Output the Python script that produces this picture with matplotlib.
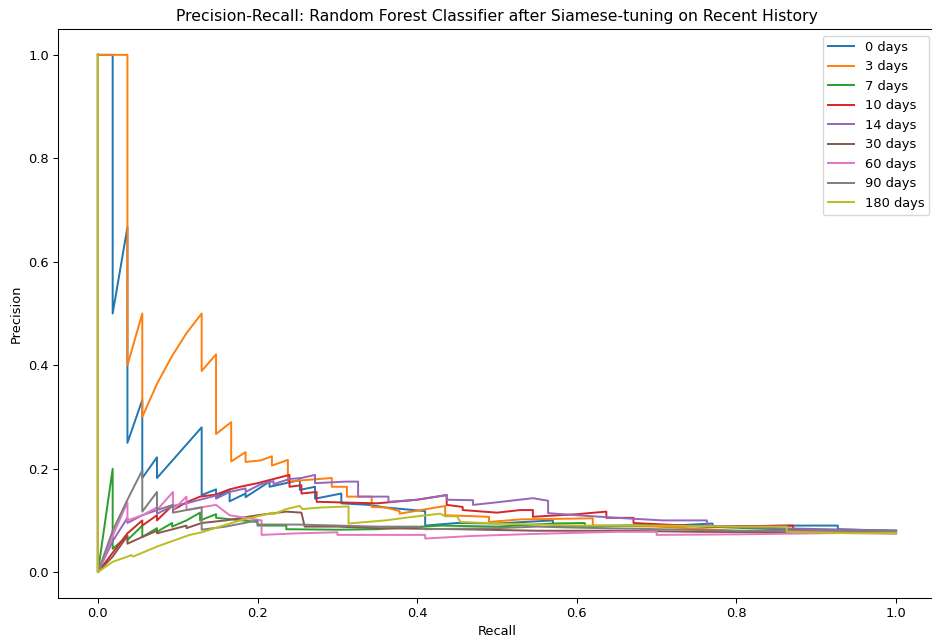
import matplotlib
matplotlib.use("Agg")
import matplotlib.pyplot as plt

# 재현율 / 정밀도
labels = ["0 days", "3 days", "7 days", "10 days", "14 days", "30 days", "60 days", "90 days", "180 days"]

recall_0 = [0, 0.0185, 0.0185, 0.037, 0.037, 0.0556, 0.0556, 0.074, 0.074, 0.13, 0.13, 0.148, 0.148, 0.165, 0.165,
            0.185, 0.185, 0.215, 0.215, 0.253, 0.253, 0.272, 0.272, 0.305, 0.305, 0.34, 0.36, 0.41, 0.41, 0.45,
            0.5, 0.57, 0.57, 0.65, 0.72, 0.77, 0.77, 0.87, 0.927, 0.927, 1.0]
precision_0 = [1, 1, 0.5, 0.667, 0.25, 0.333, 0.182, 0.222, 0.182, 0.28, 0.149, 0.16, 0.145, 0.159, 0.137,
               0.152, 0.145, 0.175, 0.165, 0.178, 0.159, 0.165, 0.142, 0.152, 0.133, 0.13, 0.125, 0.118, 0.09, 0.095,
               0.094, 0.1, 0.088, 0.09, 0.09, 0.094, 0.088, 0.09, 0.09, 0.083, 0.08]

recall_3 = [0, 0.037, 0.037, 0.0556, 0.0556, 0.074, 0.0926, 0.111, 0.13, 0.13, 0.148, 0.148, 0.167, 0.167,
            0.185, 0.185, 0.204, 0.218, 0.218, 0.238, 0.238, 0.26, 0.293, 0.293, 0.312, 0.312, 0.343, 0.343,
            0.36, 0.378, 0.378, 0.435, 0.435, 0.49, 0.49, 0.53, 0.62, 0.62, 0.7, 0.8, 0.9, 1.0]
precision_3 = [1, 1, 0.4, 0.5, 0.3, 0.364, 0.417, 0.462, 0.5, 0.389, 0.421, 0.267, 0.29, 0.214,
               0.232, 0.213, 0.216, 0.224, 0.206, 0.217, 0.175, 0.178, 0.182, 0.165, 0.165, 0.146, 0.146, 0.126,
               0.125, 0.118, 0.113, 0.128, 0.11, 0.107, 0.097, 0.102, 0.104, 0.09, 0.088, 0.08, 0.077, 0.075]

recall_7 = [0, 0, 0.0185, 0.0185, 0.037, 0.037, 0.0556, 0.0556, 0.074, 0.074, 0.093, 0.093, 0.111, 0.128, 0.128,
            0.148, 0.148, 0.2, 0.2, 0.236, 0.236, 0.3, 0.35, 0.43, 0.5, 0.57, 0.61, 0.61, 0.7, 0.76, 0.85, 1.0]
precision_7 = [1, 0, 0.2, 0.045, 0.07, 0.062, 0.09, 0.068, 0.085, 0.078, 0.095, 0.088, 0.1, 0.115, 0.1,
               0.112, 0.105, 0.097, 0.09, 0.09, 0.083, 0.082, 0.083, 0.09, 0.088, 0.094, 0.095, 0.088, 0.091, 0.088,
               0.083, 0.08]

recall_10 = [0, 0, 0.037, 0.0556, 0.0556, 0.074, 0.074, 0.094, 0.094, 0.111, 0.128, 0.148, 0.165, 0.178, 0.2,
             0.22, 0.24, 0.24, 0.255, 0.255, 0.274, 0.274, 0.35, 0.4, 0.437, 0.437, 0.457, 0.457, 0.5, 0.529,
             0.545, 0.545, 0.6, 0.637, 0.637, 0.671, 0.671, 0.763, 0.871, 0.871, 0.95, 1.0]
precision_10 = [1, 0, 0.075, 0.1, 0.09, 0.11, 0.1, 0.13, 0.12, 0.135, 0.146, 0.15, 0.16, 0.165, 0.172,
                0.18, 0.188, 0.165, 0.168, 0.152, 0.155, 0.136, 0.133, 0.14, 0.149, 0.13, 0.126, 0.12, 0.115, 0.12,
                0.12, 0.107, 0.112, 0.117, 0.105, 0.105, 0.095, 0.088, 0.09, 0.082, 0.08, 0.078]

recall_14 = [0, 0, 0.0185, 0.037, 0.037, 0.0556, 0.074, 0.074, 0.094, 0.111, 0.128, 0.148, 0.148, 0.165, 0.185,
             0.185, 0.204, 0.22, 0.22, 0.24, 0.255, 0.272, 0.272, 0.31, 0.326, 0.326, 0.364, 0.364, 0.4, 0.437,
             0.437, 0.47, 0.47, 0.5, 0.545, 0.564, 0.564, 0.6, 0.65, 0.708, 0.763, 0.763, 0.85, 1.0]
precision_14 = [1, 0, 0.06, 0.105, 0.095, 0.11, 0.12, 0.113, 0.128, 0.133, 0.14, 0.148, 0.142, 0.155, 0.162,
                0.155, 0.17, 0.176, 0.17, 0.18, 0.182, 0.188, 0.172, 0.175, 0.175, 0.146, 0.146, 0.136, 0.14, 0.149,
                0.14, 0.139, 0.13, 0.135, 0.143, 0.138, 0.114, 0.11, 0.105, 0.1, 0.1, 0.09, 0.085, 0.08]

recall_30 = [0, 0, 0.0185, 0.037, 0.037, 0.0556, 0.074, 0.074, 0.094, 0.111, 0.111, 0.13, 0.16, 0.2, 0.236,
             0.255, 0.259, 0.3, 0.35, 0.45, 0.55, 0.65, 0.75, 0.85, 1.0]
precision_30 = [1, 0, 0.03, 0.07, 0.055, 0.068, 0.08, 0.075, 0.083, 0.09, 0.085, 0.095, 0.1, 0.11, 0.117,
                0.115, 0.088, 0.088, 0.085, 0.083, 0.08, 0.08, 0.078, 0.077, 0.075]

recall_60 = [0, 0, 0.0185, 0.037, 0.037, 0.0556, 0.074, 0.074, 0.094, 0.094, 0.111, 0.111, 0.128, 0.148, 0.165,
             0.185, 0.205, 0.205, 0.25, 0.3, 0.3, 0.35, 0.41, 0.41, 0.47, 0.55, 0.65, 0.7, 0.7, 0.8, 0.9, 1.0]
precision_60 = [1, 0, 0.07, 0.135, 0.1, 0.11, 0.125, 0.12, 0.155, 0.12, 0.146, 0.12, 0.125, 0.13, 0.11,
                0.105, 0.1, 0.072, 0.075, 0.077, 0.072, 0.072, 0.072, 0.065, 0.07, 0.074, 0.078, 0.078, 0.072,
                0.073, 0.075, 0.077]

recall_90 = [0, 0, 0.0185, 0.037, 0.0556, 0.0556, 0.074, 0.074, 0.094, 0.094, 0.111, 0.13, 0.13, 0.16, 0.2,
             0.2, 0.25, 0.3, 0.35, 0.4, 0.41, 0.5, 0.55, 0.6, 0.7, 0.8, 1.0]
precision_90 = [1, 0, 0.08, 0.14, 0.197, 0.117, 0.155, 0.12, 0.13, 0.115, 0.12, 0.125, 0.082, 0.088, 0.1,
                0.092, 0.092, 0.09, 0.088, 0.088, 0.083, 0.085, 0.088, 0.086, 0.083, 0.08, 0.08]

recall_180 = [0, 0, 0.0185, 0.037, 0.042, 0.044, 0.075, 0.115, 0.13, 0.178, 0.2, 0.22, 0.22, 0.236, 0.253,
              0.256, 0.28, 0.314, 0.314, 0.36, 0.4, 0.429, 0.435, 0.45, 0.454, 0.5, 0.6, 0.7, 0.8, 0.863, 0.863,
              0.95, 1.0]
precision_180 = [1, 0, 0.02, 0.03, 0.033, 0.03, 0.05, 0.072, 0.077, 0.1, 0.108, 0.115, 0.112, 0.122, 0.128,
                 0.122, 0.125, 0.127, 0.094, 0.1, 0.108, 0.113, 0.108, 0.108, 0.097, 0.094, 0.09, 0.09, 0.088,
                 0.088, 0.078, 0.075, 0.075]

recalls = [recall_0, recall_3, recall_7, recall_10, recall_14, recall_30, recall_60, recall_90, recall_180]
precisions = [precision_0, precision_3, precision_7, precision_10, precision_14, precision_30, precision_60,
              precision_90, precision_180]

DPI = 94
fig = plt.figure(figsize=(932 / DPI, 642 / DPI), dpi=DPI)
ax = fig.add_axes([58 / 932, 44 / 642, 878 / 932, 569 / 642])

for r, p, name in zip(recalls, precisions, labels):
    ax.plot(r, p, label=name)   # 기본 색상 순서 그대로 사용

ax.set_title("Precision-Recall: Random Forest Classifier after Siamese-tuning on Recent History")
ax.set_xlabel("Recall")
ax.set_ylabel("Precision")
ax.set_xlim(-0.05, 1.05)
ax.set_ylim(-0.05, 1.05)
ax.legend(loc="upper right")

fig.savefig("out.png", dpi=DPI)
